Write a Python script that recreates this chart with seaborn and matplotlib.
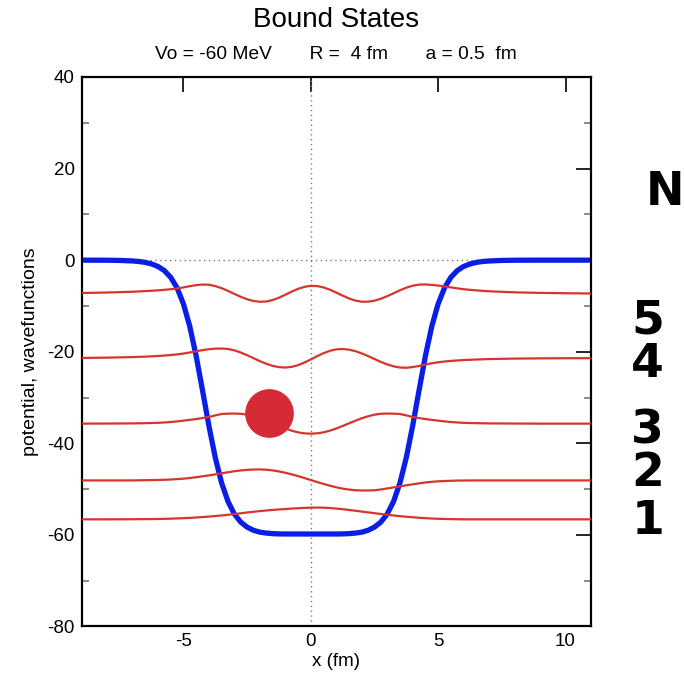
import matplotlib
matplotlib.use("Agg")
import matplotlib.pyplot as plt
import seaborn as sns
from matplotlib.ticker import MultipleLocator

# Woods-Saxon well (MeV) sampled along x (fm)
pot_x = [-9, -8, -7.5,
         -7, -6.75, -6.5, -6.25, -6, -5.75, -5.5, -5.25, -5, -4.75, -4.5,
         -4.25, -4, -3.75, -3.5, -3.25, -3, -2.75, -2.5, -2.25, -2, -1.75,
         -1.5, -1.25, -1, -0.75, -0.5, -0.25, 0,
         0.25, 0.5, 0.75, 1, 1.25, 1.5, 1.75, 2, 2.25, 2.5, 2.75, 3, 3.25,
         3.5, 3.75, 4, 4.25, 4.5, 4.75, 5, 5.25, 5.5, 5.75, 6, 6.25, 6.5,
         6.75, 7,
         7.5, 8, 9, 11]
pot_v = [0.0, -0.02, -0.06,
         -0.18, -0.29, -0.49, -0.83, -1.38, -2.28, -3.75, -6.05, -9.54,
         -14.47, -20.92, -28.44, -36.17, -43.1, -48.67, -52.7, -55.45, -57.2,
         -58.3, -58.99, -59.4, -59.6, -59.72, -59.78, -59.8, -59.8, -59.8,
         -59.8, -59.8,
         -59.8, -59.8, -59.8, -59.8, -59.78, -59.72, -59.6, -59.4, -58.99,
         -58.3, -57.2, -55.45, -52.7, -48.67, -43.1, -36.17, -28.44, -20.92,
         -14.47, -9.54, -6.05, -3.75, -2.28, -1.38, -0.83, -0.49, -0.29,
         -0.18,
         -0.06, -0.02, 0.0, 0.0]

# bound-state wavefunctions, each drawn offset to its energy level
psi_x = [-9, -8, -7, -6.5,
         -6, -5.75, -5.5, -5.25, -5, -4.75, -4.5, -4.25, -4, -3.75, -3.5,
         -3.25, -3, -2.75, -2.5, -2.25, -2, -1.75, -1.5, -1.25, -1, -0.75,
         -0.5, -0.25, 0, 0.25, 0.5, 0.75, 1, 1.25, 1.5, 1.75, 2, 2.25, 2.5,
         2.75, 3, 3.25, 3.5, 3.75, 4, 4.25, 4.5, 4.75, 5, 5.25, 5.5, 5.75, 6,
         6.25, 6.5,
         7, 8, 9, 10, 11]
psi_1 = [-56.6, -56.6, -56.58, -56.55,
         -56.52, -56.49, -56.45, -56.4, -56.35, -56.28, -56.2, -56.1, -56.0,
         -55.88, -55.75, -55.6, -55.45, -55.28, -55.1, -54.95, -54.8, -54.67,
         -54.55, -54.44, -54.35, -54.25, -54.17, -54.1, -54.05, -54.03,
         -54.05, -54.13, -54.25, -54.39, -54.55, -54.72, -54.9, -55.08,
         -55.25, -55.43, -55.6, -55.76, -55.9, -56.03, -56.15, -56.26, -56.35,
         -56.42, -56.48, -56.52, -56.55, -56.58, -56.6, -56.6, -56.6,
         -56.6, -56.6, -56.6, -56.6, -56.6]
psi_2 = [-48.1, -48.1, -48.1, -48.05,
         -48.0, -47.96, -47.9, -47.82, -47.72, -47.58, -47.4, -47.2, -47.0,
         -46.78, -46.55, -46.32, -46.1, -45.93, -45.8, -45.72, -45.7, -45.77,
         -45.91, -46.14, -46.43, -46.77, -47.16, -47.58, -48.02, -48.45,
         -48.87, -49.26, -49.6, -49.89, -50.1, -50.24, -50.3, -50.3, -50.25,
         -50.08, -49.85, -49.63, -49.4, -49.17, -48.95, -48.74, -48.55,
         -48.41, -48.3, -48.23, -48.18, -48.14, -48.12, -48.11, -48.1,
         -48.1, -48.1, -48.1, -48.1, -48.1]
psi_3 = [-35.7, -35.68, -35.65, -35.6,
         -35.52, -35.45, -35.35, -35.21, -35.05, -34.88, -34.7, -34.48,
         -34.25, -33.9, -33.6, -33.52, -33.5, -33.55, -33.75, -34.09, -34.53,
         -35.07, -35.64, -36.22, -36.77, -37.24, -37.6, -37.82, -37.9, -37.82,
         -37.6, -37.24, -36.77, -36.22, -35.64, -35.07, -34.53, -34.09,
         -33.75, -33.55, -33.5, -33.52, -33.6, -33.9, -34.25, -34.48, -34.7,
         -34.88, -35.05, -35.21, -35.35, -35.45, -35.52, -35.57, -35.6,
         -35.65, -35.68, -35.7, -35.7, -35.7]
psi_4 = [-21.35, -21.29, -21.17, -21.07,
         -20.93, -20.83, -20.72, -20.58, -20.4, -20.17, -19.9, -19.65, -19.45,
         -19.33, -19.3, -19.4, -19.7, -20.17, -20.76, -21.4, -22.05, -22.62,
         -23.08, -23.36, -23.45, -23.3, -22.93, -22.36, -21.68, -20.97,
         -20.32, -19.8, -19.48, -19.4, -19.55, -19.87, -20.36, -20.95, -21.59,
         -22.22, -22.77, -23.19, -23.44, -23.5, -23.35, -23.1, -22.78, -22.52,
         -22.3, -22.13, -22.0, -21.9, -21.82, -21.76, -21.7,
         -21.6, -21.5, -21.45, -21.42, -21.4]
psi_5 = [-7.18, -7.07, -6.9, -6.76,
         -6.6, -6.48, -6.35, -6.18, -5.95, -5.68, -5.45, -5.33, -5.37, -5.66,
         -6.12, -6.72, -7.37, -8.0, -8.54, -8.92, -9.09, -9.03, -8.72, -8.2,
         -7.55, -6.88, -6.27, -5.83, -5.61, -5.66, -5.95, -6.45, -7.08, -7.75,
         -8.36, -8.83, -9.07, -9.07, -8.85, -8.43, -7.87, -7.23, -6.58, -6.01,
         -5.58, -5.34, -5.31, -5.4, -5.55, -5.74, -5.95, -6.15, -6.35, -6.48,
         -6.6,
         -6.8, -7.03, -7.15, -7.22, -7.28]
states = [psi_1, psi_2, psi_3, psi_4, psi_5]
state_labels = ["1", "2", "3", "4", "5"]

# particle marker position (x in fm, energy in MeV)
ball_x = [-1.65]
ball_y = [-33.4]

x_ticks = [-5, 0, 5, 10]
y_ticks = [-80, -60, -40, -20, 0, 20, 40]

sns.set_style("white")
plt.rcParams["font.family"] = ["Liberation Sans", "DejaVu Sans"]
plt.rcParams["axes.unicode_minus"] = False
for key in ("text.color", "axes.labelcolor", "xtick.color", "ytick.color"):
    plt.rcParams[key] = "black"

fig = plt.figure(figsize=(6.84, 6.77), dpi=100)
ax = fig.add_axes([0.1192, 0.0746, 0.7448, 0.8117])

ax.axhline(0, color="#777777", lw=1.0, ls=(0, (1, 2.5)), zorder=1)
ax.axvline(0, color="#777777", lw=1.0, ls=(0, (1, 2.5)), zorder=1)

red = "#d6352c"
for vals in states:
    sns.lineplot(x=psi_x, y=vals, ax=ax, color=red, lw=1.6, sort=False,
                 estimator=None, zorder=3)

sns.lineplot(x=pot_x, y=pot_v, ax=ax, color="#0a1ee6", lw=3.8, sort=False,
             estimator=None, zorder=2)

sns.scatterplot(x=ball_x, y=ball_y, ax=ax, color="#d62a36", s=1230,
                linewidth=0, zorder=4)

ax.set_xlim(-9, 11)
ax.set_ylim(-80, 40)
ax.set_xticks(x_ticks)
ax.set_xticklabels([str(t) for t in x_ticks])
ax.set_yticks(y_ticks)
ax.set_yticklabels([str(t) for t in y_ticks])
ax.yaxis.set_minor_locator(MultipleLocator(10))

for side in ax.spines.values():
    side.set_linewidth(1.6)
    side.set_color("black")
    side.set_visible(True)

ax.tick_params(which="major", direction="in", length=10.5, width=1.2,
               colors="black", top=True, right=True, labelsize=13.5, pad=5)
ax.tick_params(which="minor", direction="in", length=5, width=1.2,
               color="#777777", left=True, right=True)

ax.set_xlabel("x (fm)", fontsize=13.5, labelpad=2)
ax.set_ylabel("potential, wavefunctions", fontsize=14, labelpad=6)

fig.text(0.4916, 0.970, "Bound States", fontsize=20, ha="center", va="center")
fig.text(0.4916, 0.920, "Vo = -60 MeV       R =  4 fm       a = 0.5  fm",
         fontsize=13.8, ha="center", va="center")

# level index column beside the plot
label_y = [0.229, 0.300, 0.363, 0.462, 0.526]
for lab, yy in zip(state_labels, label_y):
    fig.text(0.947, yy, lab, fontsize=34, fontweight="bold", ha="center",
             va="center", family="DejaVu Sans")
fig.text(0.944, 0.716, "N", fontsize=33, fontweight="bold", ha="left",
         va="center", family="DejaVu Sans")

fig.savefig("out.png", dpi=100)
